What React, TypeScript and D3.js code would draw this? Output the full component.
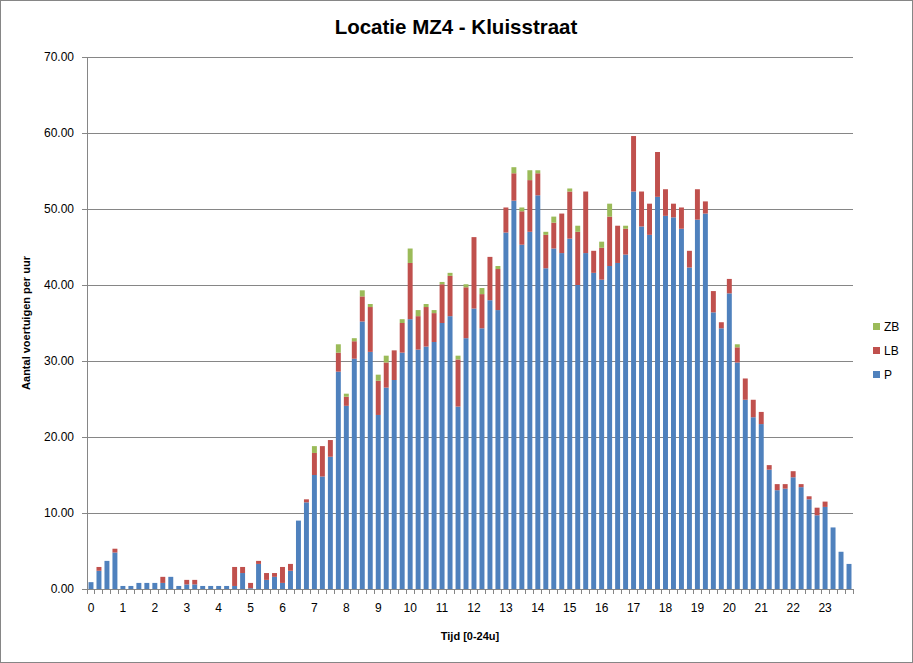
import React from "react";
import * as d3 from "d3";

const hourLabels = ["0","1","2","3","4","5","6","7","8","9","10","11","12","13","14","15","16","17","18","19","20","21","22","23"];
const yTicks = [0, 10, 20, 30, 40, 50, 60, 70];
const seriesNames = ["P", "LB", "ZB"];
const seriesColors = ["#4F81BD", "#C0504D", "#9BBB59"];

const P = [
  0.9, 2.4, 3.7, 4.8, 0.4, 0.4, 0.8, 0.8, 0.8, 0.8, 1.6, 0.4,
  0.6, 0.6, 0.4, 0.4, 0.4, 0.4, 0.4, 2.1, 0.1, 3.3, 1.2, 1.6,
  0.8, 2.4, 9.0, 11.4, 15.0, 14.8, 17.4, 28.6, 24.1, 30.3, 35.2, 31.2,
  22.9, 26.5, 27.5, 31.1, 35.5, 31.5, 31.9, 32.5, 35.0, 35.9, 24.0, 33.0,
  36.9, 34.3, 38.0, 36.7, 46.9, 51.1, 45.3, 47.0, 51.8, 42.2, 44.8, 44.2,
  46.1, 40.0, 44.2, 41.6, 40.7, 42.5, 42.9, 44.0, 52.3, 47.7, 46.6, 51.6,
  49.1, 48.9, 47.4, 42.3, 48.6, 49.4, 36.4, 34.3, 38.9, 29.8, 24.9, 22.6,
  21.7, 15.7, 13.0, 13.2, 14.7, 13.4, 11.8, 9.7, 10.8, 8.1, 4.9, 3.3,
];
const LB = [
  0, 0.5, 0, 0.5, 0, 0, 0, 0, 0, 0.8, 0, 0,
  0.6, 0.6, 0, 0, 0, 0, 2.5, 0.8, 0.7, 0.4, 0.9, 0.5,
  2.1, 0.9, 0, 0.4, 2.9, 4.0, 2.2, 2.5, 1.2, 2.3, 3.3, 5.9,
  4.5, 3.3, 3.9, 3.9, 7.4, 4.4, 5.2, 3.8, 5.1, 5.3, 6.2, 6.7,
  9.4, 4.5, 5.7, 5.4, 3.3, 3.6, 4.4, 6.8, 2.9, 4.4, 3.4, 5.2,
  6.2, 7.0, 8.1, 2.9, 4.2, 6.5, 4.9, 3.4, 7.3, 4.6, 4.1, 5.9,
  3.5, 1.8, 2.8, 2.2, 4.0, 1.6, 2.8, 0.8, 1.9, 2.0, 2.8, 2.3,
  1.6, 0.6, 0.8, 0.6, 0.8, 0.4, 0.4, 1.0, 0.7, 0, 0, 0,
];
const ZB = [
  0, 0, 0, 0, 0, 0, 0, 0, 0, 0, 0, 0,
  0, 0, 0, 0, 0, 0, 0, 0, 0, 0, 0, 0,
  0, 0, 0, 0, 0.9, 0, 0, 1.1, 0.4, 0.4, 0.8, 0.4,
  0.8, 0.9, 0, 0.5, 1.9, 0.8, 0.4, 0.4, 0.3, 0.4, 0.5, 0.4,
  0, 0.8, 0, 0.4, 0, 0.8, 0.5, 1.3, 0.4, 0.4, 0.8, 0,
  0.4, 0.8, 0, 0, 0.8, 1.7, 0, 0.4, 0, 0, 0, 0,
  0, 0, 0, 0, 0, 0, 0, 0, 0, 0.4, 0, 0,
  0, 0, 0, 0, 0, 0, 0, 0, 0, 0, 0, 0,
];

const W = 913;
const H = 663;
const M = { left: 87, right: 853, top: 57, bottom: 589 };
const FONT = "'Liberation Sans', Arial, sans-serif";

export default function App() {
  const idx = d3.range(P.length);
  const table = idx.map((i) => ({ i, P: P[i], LB: LB[i], ZB: ZB[i] }));
  const stack = d3.stack<any>().keys(seriesNames)(table);

  const x = d3.scaleBand<number>().domain(idx).range([M.left, M.right]).paddingInner(0.38).paddingOuter(0.19);
  const y = d3.scaleLinear().domain([0, 70]).range([M.bottom, M.top]);
  const step = x.step();

  return (
    <svg width={W} height={H} style={{ position: "absolute", left: 0, top: 0, background: "#fff" }}>
      <rect x={0.5} y={0.5} width={W - 1} height={H - 1} fill="#fff" stroke="#868686" />
      <text x={456} y={34} textAnchor="middle" fontFamily={FONT} fontWeight="bold" fontSize={20.5} fill="#000">
        Locatie MZ4 - Kluisstraat
      </text>

      {yTicks.map((t) => (
        <g key={t}>
          {t > 0 && <line x1={M.left} x2={M.right} y1={y(t)} y2={y(t)} stroke="#868686" strokeWidth={1} shapeRendering="crispEdges" />}
          <line x1={M.left - 5} x2={M.left} y1={y(t)} y2={y(t)} stroke="#868686" shapeRendering="crispEdges" />
          <text x={M.left - 13} y={y(t) + 4} textAnchor="end" fontFamily={FONT} fontSize={12} fill="#000">
            {t.toFixed(2)}
          </text>
        </g>
      ))}

      {stack.map((s, si) => (
        <g key={seriesNames[si]} fill={seriesColors[si]}>
          {s.map((d, i) => {
            const h = y(d[0]) - y(d[1]);
            if (h <= 0) return null;
            return <rect key={i} x={x(i)} y={y(d[1])} width={x.bandwidth()} height={h} />;
          })}
        </g>
      ))}

      <line x1={M.left} x2={M.left} y1={M.top} y2={M.bottom} stroke="#868686" shapeRendering="crispEdges" />
      <line x1={M.left} x2={M.right} y1={M.bottom} y2={M.bottom} stroke="#868686" shapeRendering="crispEdges" />
      {d3.range(P.length + 1).map((k) => {
        const xx = M.left + k * step;
        return <line key={k} x1={xx} x2={xx} y1={M.bottom} y2={M.bottom + 5} stroke="#868686" shapeRendering="crispEdges" />;
      })}
      {hourLabels.map((lab, h) => (
        <text key={lab} x={(x(h * 4) as number) + x.bandwidth() / 2} y={M.bottom + 23} textAnchor="middle" fontFamily={FONT} fontSize={12} fill="#000">
          {lab}
        </text>
      ))}

      <text x={470} y={640} textAnchor="middle" fontFamily={FONT} fontWeight="bold" fontSize={11} fill="#000">
        Tijd [0-24u]
      </text>
      <text transform={`translate(30,${(M.top + M.bottom) / 2}) rotate(-90)`} textAnchor="middle" fontFamily={FONT} fontWeight="bold" fontSize={11} fill="#000">
        Aantal voertuigen per uur
      </text>

      {[2, 1, 0].map((si, k) => (
        <g key={si} transform={`translate(873,${323 + k * 24})`}>
          <rect x={0} y={0} width={7} height={7} fill={seriesColors[si]} />
          <text x={11} y={8} fontFamily={FONT} fontSize={12} fill="#000">{seriesNames[si]}</text>
        </g>
      ))}
    </svg>
  );
}
